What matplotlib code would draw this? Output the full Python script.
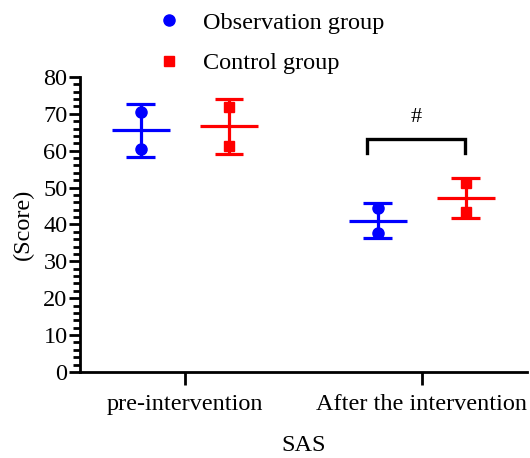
import matplotlib
matplotlib.use("Agg")
import matplotlib.pyplot as plt
import numpy as np
from matplotlib.lines import Line2D
from matplotlib.ticker import MultipleLocator

plt.rcParams['font.family'] = ['Liberation Serif', 'DejaVu Serif']

categories = ["pre-intervention", "After the intervention"]
obs_values = [[70.6, 60.5], [44.4, 37.6]]
ctrl_values = [[71.9, 61.4], [51.1, 43.4]]
series_names = ["Observation group", "Control group"]
colors = ["#0000FF", "#FF0000"]
markers = ["o", "s"]
y_ticks = [0, 10, 20, 30, 40, 50, 60, 70, 80]
sig_label = "#"

fig = plt.figure(figsize=(5.30, 4.58), dpi=100)
ax = fig.add_axes([0.151, 0.188, 0.843, 0.644])

offset = 0.186
mean_hw = 0.122
cap_hw = 0.061
lw = 2.3
fs = 17.5

x_base = np.arange(len(categories))
for si, (vals, col, mk) in enumerate(zip([obs_values, ctrl_values], colors, markers)):
    sign = -1 if si == 0 else 1
    for ci, v in enumerate(vals):
        x = x_base[ci] + sign * offset
        v = np.array(v)
        m = v.mean()
        sd = v.std(ddof=1)
        ax.plot([x, x], [m - sd, m + sd], color=col, lw=lw, solid_capstyle='butt', zorder=2)
        ax.plot([x - cap_hw, x + cap_hw], [m + sd, m + sd], color=col, lw=lw, solid_capstyle='butt', zorder=2)
        ax.plot([x - cap_hw, x + cap_hw], [m - sd, m - sd], color=col, lw=lw, solid_capstyle='butt', zorder=2)
        ax.plot([x - mean_hw, x + mean_hw], [m, m], color=col, lw=lw, solid_capstyle='butt', zorder=2)
        ax.plot([x] * len(v), v, linestyle='none', marker=mk, color=col,
                markersize=8 if mk == 'o' else 7.5, zorder=3)

# significance bracket
bx0 = x_base[1] - 0.23
bx1 = x_base[1] + 0.18
ax.plot([bx0, bx0, bx1, bx1], [59.5, 63.1, 63.1, 59.5], color='black', lw=2.4,
        solid_joinstyle='miter', zorder=2)
ax.text((bx0 + bx1) / 2, 66.3, sig_label, ha='center', va='bottom', fontsize=16)

ax.set_xlim(-0.443, 1.443)
ax.set_ylim(0, 80)
ax.set_yticks(y_ticks)
ax.yaxis.set_minor_locator(MultipleLocator(2))
ax.set_xticks(x_base)
ax.set_xticklabels(categories, fontsize=fs)
ax.tick_params(axis='y', labelsize=fs, width=2, length=8, pad=1)
ax.tick_params(axis='y', which='minor', width=2, length=5)
ax.tick_params(axis='x', width=2, length=9, pad=7)
for s in ['top', 'right']:
    ax.spines[s].set_visible(False)
for s in ['left', 'bottom']:
    ax.spines[s].set_linewidth(2)
ax.set_ylabel("(Score)", fontsize=fs, labelpad=7)
ax.set_xlabel("SAS", fontsize=fs, labelpad=14)

handles = [Line2D([], [], linestyle='none', marker=m, color=c, markersize=8 if m == 'o' else 7.5)
           for m, c in zip(markers, colors)]
fig.legend(handles, series_names, loc='upper left', bbox_to_anchor=(0.254, 1.022),
           frameon=False, fontsize=fs, handletextpad=0.93, labelspacing=0.76,
           handlelength=1.0)

fig.savefig("out.png", dpi=100)
